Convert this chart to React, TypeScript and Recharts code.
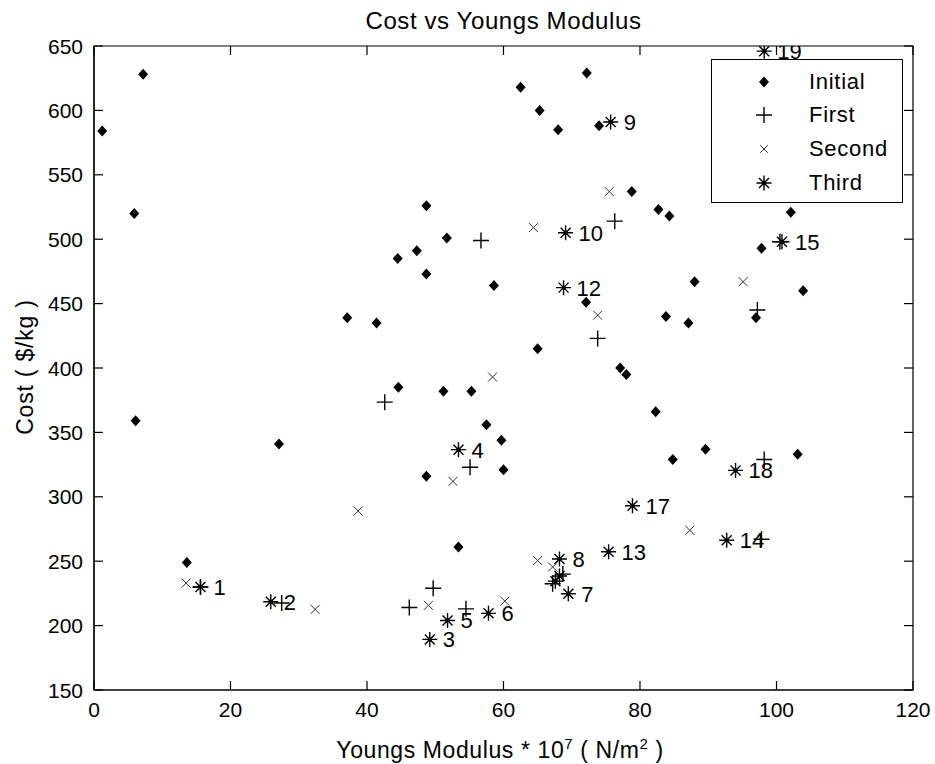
import React from 'react';
import { ScatterChart, Scatter, XAxis, YAxis, Legend, ReferenceArea } from 'recharts';

const initialX = [1.2, 7.2, 5.9, 6.1, 13.6, 27.1, 37.1, 41.4, 44.5, 47.3, 48.7, 48.7, 51.7, 58.6, 44.6, 51.2, 55.3, 57.5, 59.7, 60.0, 48.7, 53.4, 62.5, 65.3, 68.0, 72.2, 74.0, 78.8, 82.7, 84.3, 72.1, 65.0, 77.1, 78.0, 82.3, 83.8, 87.1, 88.0, 97.0, 103.9, 97.8, 102.1, 84.8, 89.6, 103.1];
const initialY = [584, 628, 520, 359, 249, 341, 439, 435, 485, 491, 526, 473, 501, 464, 385, 382, 382, 356, 344, 321, 316, 261, 618, 600, 585, 629, 588, 537, 523, 518, 451, 415, 400, 395, 366, 440, 435, 467, 439, 460, 493, 521, 329, 337, 333];

const firstX = [15.6, 27.5, 42.6, 46.2, 49.7, 54.5, 55.1, 56.7, 68.7, 67.2, 73.8, 76.3, 97.2, 98.2, 97.8, 100.5];
const firstY = [230, 217.5, 373.5, 214, 229, 213, 323, 499, 240, 232.5, 423, 514, 445, 329, 267, 498];

const secondX = [75.5, 64.4, 73.8, 95.1, 58.4, 52.6, 38.7, 13.5, 32.4, 49.0, 60.2, 65.0, 67.2, 87.3];
const secondY = [537, 509, 441, 467, 393, 312, 289, 233, 212.6, 215.7, 219, 250.5, 245.5, 274];

const thirdX = [15.6, 25.9, 49.2, 53.4, 51.8, 57.8, 69.5, 68.2, 75.7, 69.1, 68.2, 68.8, 75.4, 92.7, 100.8, 67.6, 78.9, 94.0, 98.2];
const thirdY = [230, 218.5, 189.3, 336.6, 204, 209.5, 224.7, 251.7, 591, 505, 238.5, 462.4, 257.3, 266.3, 498, 234.5, 293, 320.5, 646];
const thirdLabels = ['1', '2', '3', '4', '5', '6', '7', '8', '9', '10', '', '12', '13', '14', '15', '', '17', '18', '19'];

const xTicks = [0, 20, 40, 60, 80, 100, 120];
const yTicks = [150, 200, 250, 300, 350, 400, 450, 500, 550, 600, 650];
const xDomain = [0, 120];
const yDomain = [150, 650];
const seriesNames = ['Initial', 'First', 'Second', 'Third'];

const FONT = '"Liberation Sans", Arial, Helvetica, sans-serif';
const TICK = 9;
const PLOT = { left: 94, right: 913, top: 46, bottom: 690 };

const pts = (xs: number[], ys: number[], labels?: string[]) =>
  xs.map((x, i) => ({ x, y: ys[i], label: labels ? labels[i] : '' }));

const initialData = pts(initialX, initialY);
const firstData = pts(firstX, firstY);
const secondData = pts(secondX, secondY);
const thirdData = pts(thirdX, thirdY, thirdLabels);

const diamondPath = (cx: number, cy: number) =>
  `M${cx},${cy - 5.5}L${cx + 5},${cy}L${cx},${cy + 5.5}L${cx - 5},${cy}Z`;
const plusPath = (cx: number, cy: number) =>
  `M${cx - 8},${cy}H${cx + 8}M${cx},${cy - 8}V${cy + 8}`;
const crossPath = (cx: number, cy: number, s = 4.5) =>
  `M${cx - s},${cy - s}L${cx + s},${cy + s}M${cx - s},${cy + s}L${cx + s},${cy - s}`;
const starPath = (cx: number, cy: number) =>
  `M${cx - 7.5},${cy}H${cx + 7.5}M${cx},${cy - 7.5}V${cy + 7.5}` + crossPath(cx, cy, 5);

const DiamondShape = (p: any) => <path d={diamondPath(p.cx, p.cy)} fill="#000" />;
const PlusShape = (p: any) => <path d={plusPath(p.cx, p.cy)} stroke="#000" strokeWidth={1.4} fill="none" />;
const CrossShape = (p: any) => <path d={crossPath(p.cx, p.cy)} stroke="#333" strokeWidth={1} fill="none" />;
const StarShape = (p: any) => (
  <g>
    <path d={starPath(p.cx, p.cy)} stroke="#000" strokeWidth={1.4} fill="none" />
    <circle cx={p.cx} cy={p.cy} r={2.2} fill="#000" />
    {p.payload && p.payload.label ? (
      <text x={p.cx + 13} y={p.cy + 8} fontSize={22} fontFamily={FONT} fill="#000">
        {p.payload.label}
      </text>
    ) : null}
  </g>
);

// bottom ticks (with labels) + matching inward ticks on the top edge
const BottomTick = (p: any) => (
  <g>
    <line x1={p.x} y1={PLOT.bottom} x2={p.x} y2={PLOT.bottom - TICK} stroke="#000" strokeWidth={1.2} />
    <line x1={p.x} y1={PLOT.top} x2={p.x} y2={PLOT.top + TICK} stroke="#000" strokeWidth={1.2} />
    <text x={p.x} y={PLOT.bottom + 27} textAnchor="middle" fontSize={21} fontFamily={FONT} fill="#000">
      {p.payload.value}
    </text>
  </g>
);
// left ticks (with labels) + matching inward ticks on the right edge
const LeftTick = (p: any) => (
  <g>
    <line x1={PLOT.left} y1={p.y} x2={PLOT.left + TICK} y2={p.y} stroke="#000" strokeWidth={1.2} />
    <line x1={PLOT.right} y1={p.y} x2={PLOT.right - TICK} y2={p.y} stroke="#000" strokeWidth={1.2} />
    <text x={PLOT.left - 11} y={p.y + 7.5} textAnchor="end" fontSize={21} fontFamily={FONT} fill="#000">
      {p.payload.value}
    </text>
  </g>
);

const XTitle = () => (
  <g>
    <text x={503.5} y={29} textAnchor="middle" fontSize={24} fontFamily={FONT} fill="#000" letterSpacing={0.6}>
      Cost vs Youngs Modulus
    </text>
    <text x={500} y={758} textAnchor="middle" fontSize={23} fontFamily={FONT} fill="#000" letterSpacing={0.6}>
      {'Youngs Modulus  * 10'}
      <tspan dy={-9} fontSize={15}>7</tspan>
      <tspan dy={9}>{' ( N/m'}</tspan>
      <tspan dy={-9} fontSize={15}>2</tspan>
      <tspan dy={9}>{' )'}</tspan>
    </text>
  </g>
);
const YTitle = () => (
  <text x={33} y={367} transform="rotate(-90, 33, 367)" textAnchor="middle" fontSize={23} fontFamily={FONT} fill="#000" letterSpacing={0.8}>
    Cost ( $/kg )
  </text>
);

const legendMarker = (name: string) => {
  const c = 12;
  if (name === 'Initial') return <path d={diamondPath(c, c)} fill="#000" />;
  if (name === 'First') return <path d={plusPath(c, c)} stroke="#000" strokeWidth={1.4} fill="none" />;
  if (name === 'Second') return <path d={crossPath(c, c, 3.8)} stroke="#333" strokeWidth={1} fill="none" />;
  return (
    <g>
      <path d={starPath(c, c)} stroke="#000" strokeWidth={1.4} fill="none" />
      <circle cx={c} cy={c} r={2.2} fill="#000" />
    </g>
  );
};

const LegendBox = () => (
  <div
    style={{
      position: 'relative',
      width: 192,
      height: 144,
      boxSizing: 'border-box',
      border: '1.5px solid #000',
      background: '#fff',
      fontFamily: FONT,
    }}
  >
    {seriesNames.map((name, i) => (
      <div key={name} style={{ position: 'absolute', left: 0, top: 21.7 + i * 33.7 - 14, height: 28, width: 190 }}>
        <svg width={24} height={24} style={{ position: 'absolute', left: 53 - 12 - 1.5, top: 2 }}>
          {legendMarker(name)}
        </svg>
        <span style={{ position: 'absolute', left: 97, top: 0, fontSize: 22, lineHeight: '28px', color: '#000', letterSpacing: 0.7 }}>
          {name}
        </span>
      </div>
    ))}
  </div>
);

export default function App() {
  return (
    <div style={{ position: 'absolute', left: 0, top: 0, width: 935, height: 764, background: '#fff' }}>
      <ScatterChart width={935} height={764} margin={{ top: 46, right: 22, bottom: 0, left: 0 }}>
        <XAxis
          dataKey="x"
          type="number"
          domain={xDomain}
          ticks={xTicks}
          height={74}
          tickSize={0}
          tickMargin={0}
          tickLine={false}
          tick={<BottomTick />}
          axisLine={{ stroke: '#000', strokeWidth: 1.2 }}
          label={<XTitle />}
          allowDataOverflow
        />
        <YAxis
          dataKey="y"
          type="number"
          domain={yDomain}
          ticks={yTicks}
          width={94}
          tickSize={0}
          tickMargin={0}
          tickLine={false}
          tick={<LeftTick />}
          axisLine={{ stroke: '#000', strokeWidth: 1.2 }}
          label={<YTitle />}
          allowDataOverflow
        />
        <ReferenceArea
          x1={xDomain[0]}
          x2={xDomain[1]}
          y1={yDomain[0]}
          y2={yDomain[1]}
          fill="none"
          fillOpacity={0}
          stroke="#000"
          strokeWidth={1.2}
          ifOverflow="visible"
        />
        <Scatter name="Initial" data={initialData} shape={DiamondShape} isAnimationActive={false} />
        <Scatter name="First" data={firstData} shape={PlusShape} isAnimationActive={false} />
        <Scatter name="Second" data={secondData} shape={CrossShape} isAnimationActive={false} />
        <Scatter name="Third" data={thirdData} shape={StarShape} isAnimationActive={false} />
        <Legend
          layout="horizontal"
          verticalAlign="middle"
          align="center"
          content={<LegendBox />}
          wrapperStyle={{ left: 711, top: 59, width: 192, height: 144 }}
        />
      </ScatterChart>
    </div>
  );
}
